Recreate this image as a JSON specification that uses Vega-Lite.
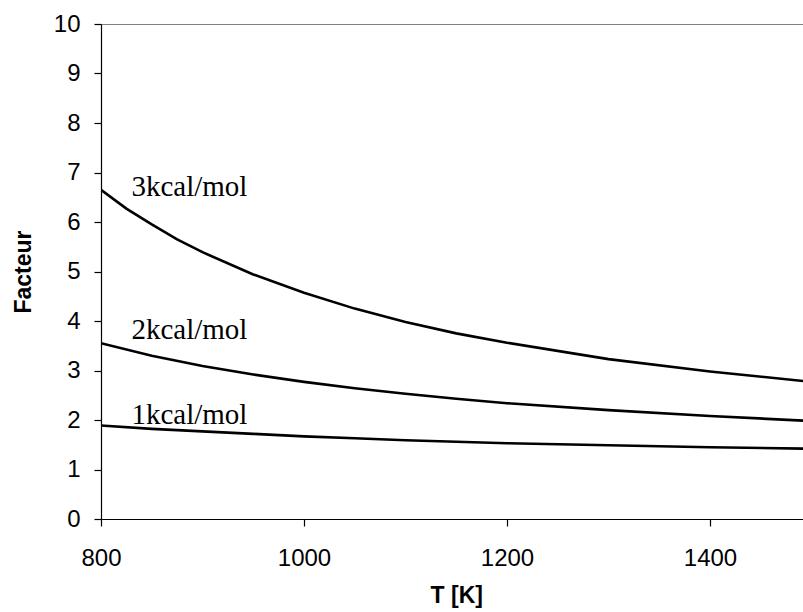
{
  "$schema": "https://vega.github.io/schema/vega-lite/v6.json",
  "width": 710.5,
  "height": 495,
  "autosize": "none",
  "padding": {"left": 101, "top": 24, "right": 0, "bottom": 93},
  "background": "white",
  "config": {
    "view": {"stroke": "#808080", "strokeWidth": 1},
    "font": "Liberation Sans"
  },
  "datasets": {
    "curves": [
      {"T": 800, "F": 1.89, "E": "1kcal/mol"},
      {"T": 850, "F": 1.82, "E": "1kcal/mol"},
      {"T": 900, "F": 1.77, "E": "1kcal/mol"},
      {"T": 950, "F": 1.72, "E": "1kcal/mol"},
      {"T": 1000, "F": 1.67, "E": "1kcal/mol"},
      {"T": 1050, "F": 1.63, "E": "1kcal/mol"},
      {"T": 1100, "F": 1.59, "E": "1kcal/mol"},
      {"T": 1150, "F": 1.56, "E": "1kcal/mol"},
      {"T": 1200, "F": 1.53, "E": "1kcal/mol"},
      {"T": 1300, "F": 1.49, "E": "1kcal/mol"},
      {"T": 1400, "F": 1.45, "E": "1kcal/mol"},
      {"T": 1500, "F": 1.42, "E": "1kcal/mol"},
      {"T": 800, "F": 3.55, "E": "2kcal/mol"},
      {"T": 850, "F": 3.30, "E": "2kcal/mol"},
      {"T": 900, "F": 3.09, "E": "2kcal/mol"},
      {"T": 950, "F": 2.92, "E": "2kcal/mol"},
      {"T": 1000, "F": 2.77, "E": "2kcal/mol"},
      {"T": 1050, "F": 2.64, "E": "2kcal/mol"},
      {"T": 1100, "F": 2.53, "E": "2kcal/mol"},
      {"T": 1150, "F": 2.43, "E": "2kcal/mol"},
      {"T": 1200, "F": 2.34, "E": "2kcal/mol"},
      {"T": 1300, "F": 2.20, "E": "2kcal/mol"},
      {"T": 1400, "F": 2.08, "E": "2kcal/mol"},
      {"T": 1500, "F": 1.98, "E": "2kcal/mol"},
      {"T": 800, "F": 6.65, "E": "3kcal/mol"},
      {"T": 825, "F": 6.27, "E": "3kcal/mol"},
      {"T": 850, "F": 5.95, "E": "3kcal/mol"},
      {"T": 875, "F": 5.65, "E": "3kcal/mol"},
      {"T": 900, "F": 5.39, "E": "3kcal/mol"},
      {"T": 950, "F": 4.94, "E": "3kcal/mol"},
      {"T": 1000, "F": 4.57, "E": "3kcal/mol"},
      {"T": 1050, "F": 4.25, "E": "3kcal/mol"},
      {"T": 1100, "F": 3.98, "E": "3kcal/mol"},
      {"T": 1150, "F": 3.75, "E": "3kcal/mol"},
      {"T": 1200, "F": 3.56, "E": "3kcal/mol"},
      {"T": 1300, "F": 3.23, "E": "3kcal/mol"},
      {"T": 1400, "F": 2.98, "E": "3kcal/mol"},
      {"T": 1500, "F": 2.77, "E": "3kcal/mol"}
    ],
    "labels": [
      {"T": 830, "F": 6.525, "E": "3kcal/mol"},
      {"T": 830, "F": 3.63, "E": "2kcal/mol"},
      {"T": 830, "F": 1.92, "E": "1kcal/mol"}
    ]
  },
  "encoding": {
    "x": {
      "field": "T", "type": "quantitative",
      "scale": {"domain": [800, 1500], "nice": false, "zero": false},
      "axis": {
        "values": [800, 1000, 1200, 1400],
        "format": "d",
        "labelFlush": false,
        "grid": false,
        "title": "T [K]",
        "titleFont": "Liberation Sans", "titleFontSize": 23, "titleFontWeight": "bold", "titleColor": "black",
        "titlePadding": 14,
        "labelFont": "Liberation Sans", "labelFontSize": 24, "labelColor": "black",
        "labelPadding": 20,
        "domainColor": "black", "domainWidth": 1.2,
        "tickColor": "black", "tickSize": 7, "tickWidth": 1.2
      }
    },
    "y": {
      "field": "F", "type": "quantitative",
      "scale": {"domain": [0, 10], "nice": false},
      "axis": {
        "values": [0, 1, 2, 3, 4, 5, 6, 7, 8, 9, 10],
        "format": "d",
        "labelFlush": false,
        "grid": false,
        "title": "Facteur",
        "titleFont": "Liberation Sans", "titleFontSize": 23, "titleFontWeight": "bold", "titleColor": "black",
        "titlePadding": 18,
        "labelFont": "Liberation Sans", "labelFontSize": 24, "labelColor": "black",
        "labelPadding": 14,
        "domainColor": "black", "domainWidth": 1.2,
        "tickColor": "black", "tickSize": 7, "tickWidth": 1.2
      }
    }
  },
  "layer": [
    {
      "data": {"name": "curves"},
      "mark": {"type": "line", "color": "black", "strokeWidth": 2.6, "clip": true},
      "encoding": {"detail": {"field": "E", "type": "nominal"}}
    },
    {
      "data": {"name": "labels"},
      "mark": {"type": "text", "align": "left", "baseline": "alphabetic", "font": "Liberation Serif", "fontSize": 29, "color": "black"},
      "encoding": {"text": {"field": "E", "type": "nominal"}}
    }
  ]
}
